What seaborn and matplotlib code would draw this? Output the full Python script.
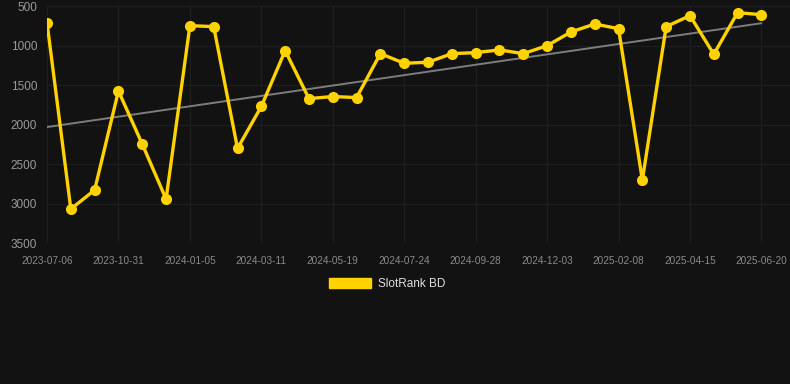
import numpy as np
import pandas as pd
import matplotlib
matplotlib.use("Agg")
import matplotlib.pyplot as plt
import seaborn as sns
from matplotlib.patches import Patch

# rank values, one point every ~3 weeks
ranks = [710, 3070, 2830, 1575, 2248, 2944, 749, 761, 2303, 1772,
         1065, 1672, 1646, 1659, 1103, 1225, 1212, 1103, 1090, 1056,
         1103, 1002, 829, 728, 787, 2703, 761, 622, 1111, 584, 610]
tick_labels = ["2023-07-06", "2023-10-31", "2024-01-05", "2024-03-11",
               "2024-05-19", "2024-07-24", "2024-09-28", "2024-12-03",
               "2025-02-08", "2025-04-15", "2025-06-20"]
y_ticks = [500, 1000, 1500, 2000, 2500, 3000, 3500]

bg = "#121212"
gold = "#FFD200"

df = pd.DataFrame({"idx": np.arange(len(ranks)), "rank": ranks})

sns.set_style("dark")
plt.rcParams["font.family"] = ["Liberation Sans", "DejaVu Sans"]

fig = plt.figure(figsize=(7.9, 3.84), dpi=100, facecolor=bg)
ax = fig.add_axes([47 / 790, 1 - 243 / 384, 1 - 47 / 790, 237 / 384])
ax.set_facecolor(bg)

# trend line
coef = np.polyfit(df["idx"], df["rank"], 1)
trend = np.polyval(coef, df["idx"])
ax.plot(df["idx"], trend, color="#7d7d7d", lw=1.4, zorder=2)

sns.lineplot(data=df, x="idx", y="rank", ax=ax, color=gold, lw=2.4,
             marker="o", markersize=8, markeredgewidth=0, zorder=3)

ax.set_ylim(3500, 500)
ax.set_xlim(0, 31.2)
ax.set_yticks(y_ticks)
ax.set_yticklabels([str(v) for v in y_ticks], fontsize=8.5, color="#9a9a9a")
ax.set_xticks(np.arange(0, len(ranks), 3))
ax.set_xticklabels(tick_labels, fontsize=7.2, color="#8a8a8a")
ax.tick_params(length=0)
ax.tick_params(axis="x", pad=9)
ax.tick_params(axis="y", pad=7)
ax.grid(True, color="#1f1f1f", lw=0.8)
ax.set_xlabel("")
ax.set_ylabel("")
for s in ax.spines.values():
    s.set_visible(False)

fig.legend(handles=[Patch(color=gold, label="SlotRank BD")],
           loc="center", bbox_to_anchor=(0.49, 1 - 284 / 384),
           frameon=False, fontsize=8.5, labelcolor="#dddddd",
           handlelength=3.6, handleheight=1.0, handletextpad=0.6)

fig.savefig("out.png", dpi=100, facecolor=bg)
